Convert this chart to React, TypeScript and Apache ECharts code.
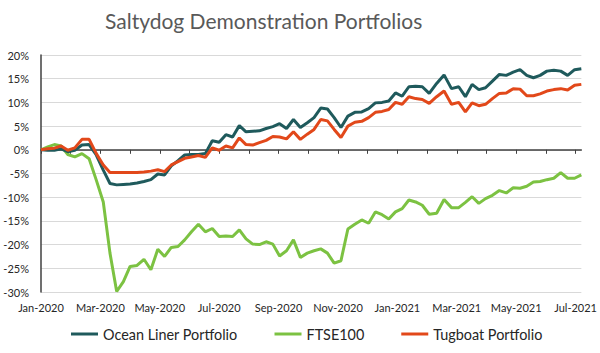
import React, { useEffect, useRef } from "react";
import * as echarts from "echarts";

const START_DATE = "2020-01-01";
const WEEK_COUNT = 80;
const MONTHS = ["Jan", "Feb", "Mar", "Apr", "May", "Jun", "Jul", "Aug", "Sep", "Oct", "Nov", "Dec"];
const Y_TICKS = [-30, -25, -20, -15, -10, -5, 0, 5, 10, 15, 20];
const SERIES_NAMES = ["Ocean Liner Portfolio", "FTSE100", "Tugboat Portfolio"];

const oceanLiner = [
  0.0, -0.1, -0.1, 0.2, -0.4, -0.1, 1.0, 1.1, -1.1, -4.3,
  -7.1, -7.4, -7.3, -7.2, -7.0, -6.7, -6.3, -5.1, -5.3, -3.4,
  -2.3, -1.1, -1.0, -1.0, -0.8, 1.9, 1.6, 3.2, 2.7, 5.1,
  3.8, 3.9, 4.0, 4.5, 4.9, 5.5, 4.5, 6.4, 4.7, 5.7,
  6.8, 8.8, 8.6, 6.8, 4.7, 7.1, 7.9, 8.0, 8.7, 9.9,
  10.0, 10.3, 12.0, 11.3, 13.3, 13.4, 13.3, 11.9, 14.0, 15.8,
  12.9, 13.3, 11.2, 13.8, 12.7, 13.1, 14.5, 15.9, 15.7, 16.4,
  16.9, 15.7, 15.2, 15.7, 16.6, 16.8, 16.6, 15.7, 16.9, 17.1,
];

const ftse100 = [
  0.0, 0.6, 1.1, 0.8, -1.0, -1.5, -0.8, -1.9, -6.4, -11.0,
  -21.8, -29.9, -27.8, -24.6, -24.4, -23.1, -25.3, -21.0, -22.5, -20.6,
  -20.4, -19.0, -17.3, -15.7, -17.3, -16.6, -18.3, -18.2, -18.3, -16.9,
  -18.8, -19.9, -20.0, -19.4, -19.9, -22.4, -21.3, -19.0, -22.7, -21.8,
  -21.3, -20.9, -21.8, -23.9, -23.4, -16.7, -15.7, -14.8, -15.5, -13.1,
  -13.7, -14.6, -13.1, -12.4, -10.6, -11.0, -11.7, -13.6, -13.4, -10.5,
  -12.2, -12.2, -11.1, -9.9, -11.3, -10.3, -9.6, -8.6, -9.1, -8.0,
  -8.1, -7.7, -6.8, -6.7, -6.3, -6.0, -4.8, -6.0, -6.0, -5.3,
];

const tugboat = [
  0.0, 0.2, 0.35, 0.8, -0.1, 0.4, 2.2, 2.2, -0.8, -3.2,
  -4.8, -4.8, -4.8, -4.8, -4.8, -4.7, -4.5, -4.2, -4.6, -3.2,
  -2.5, -1.8, -1.5, -1.2, -1.6, 0.4, -0.1, 0.8, 0.4, 2.5,
  1.1, 1.0, 1.5, 2.0, 2.8, 2.7, 2.3, 3.8, 2.2, 3.3,
  4.3, 6.4, 6.1, 4.3, 2.6, 5.0, 5.8, 6.0, 6.8, 7.9,
  8.1, 8.5, 10.0, 9.6, 11.2, 10.8, 10.6, 9.8, 11.2, 12.4,
  9.6, 10.0, 8.0, 9.9, 9.3, 9.6, 10.8, 11.9, 12.0, 12.9,
  12.8, 11.4, 11.4, 11.8, 12.4, 12.7, 12.9, 12.6, 13.6, 13.8,
];

const COLORS = ["#1f5a5c", "#7cc242", "#e2481a"];
const FONT = "Lato";

// Weekly dates -> fractional month index since Jan 2020
function weekDates(): Date[] {
  const start = new Date(START_DATE + "T00:00:00Z");
  const out: Date[] = [];
  for (let i = 0; i < WEEK_COUNT; i++) {
    out.push(new Date(start.getTime() + i * 7 * 86400000));
  }
  return out;
}
function monthIndex(d: Date): number {
  const y = d.getUTCFullYear();
  const m = d.getUTCMonth();
  const dim = new Date(Date.UTC(y, m + 1, 0)).getUTCDate();
  return (y - 2020) * 12 + m + (d.getUTCDate() - 1) / dim;
}

export default function App() {
  const ref = useRef<HTMLDivElement>(null);
  useEffect(() => {
    if (!ref.current) return;
    const chart = echarts.init(ref.current, undefined, { renderer: "svg" });
    const xs = weekDates().map(monthIndex);
    const values = [oceanLiner, ftse100, tugboat];
    chart.setOption({
      animation: false,
      backgroundColor: "#ffffff",
      title: {
        text: "Saltydog Demonstration Portfolios",
        left: 105,
        top: 10,
        padding: 0,
        textStyle: { fontFamily: FONT, fontSize: 21, fontWeight: "normal", color: "#595959" },
      },
      legend: {
        data: SERIES_NAMES,
        left: 71,
        top: 327,
        padding: 0,
        icon: "rect",
        itemWidth: 27,
        itemHeight: 3,
        itemGap: 37,
        textStyle: { fontFamily: FONT, fontSize: 14.4, color: "#262626" },
      },
      grid: { left: 41, right: 12, top: 55, bottom: 61, containLabel: false },
      xAxis: {
        type: "value",
        min: 0,
        max: xs[xs.length - 1],
        interval: 1,
        axisLine: { show: true, lineStyle: { color: "#404040", width: 1.5 } },
        axisTick: { show: true, length: 4, lineStyle: { color: "#404040" } },
        splitLine: { show: false },
        axisLabel: {
          margin: 10,
          fontFamily: FONT,
          fontSize: 11,
          color: "#262626",
          showMaxLabel: false,
          formatter: (v: number) => {
            const r = Math.round(v);
            if (Math.abs(v - r) > 1e-6 || r % 2 !== 0) return "";
            return MONTHS[r % 12] + "-" + (2020 + Math.floor(r / 12));
          },
        },
      },
      yAxis: {
        type: "value",
        min: Y_TICKS[0],
        max: Y_TICKS[Y_TICKS.length - 1],
        interval: 5,
        axisLine: { show: true, lineStyle: { color: "#404040", width: 1.5 } },
        axisTick: { show: false },
        splitLine: { lineStyle: { color: "#d9d9d9", width: 1.2 } },
        axisLabel: {
          margin: 12,
          fontFamily: FONT,
          fontSize: 11,
          color: "#262626",
          formatter: (v: number) => v + "%",
        },
      },
      series: SERIES_NAMES.map((name, k) => ({
        name,
        type: "line",
        showSymbol: false,
        symbol: "none",
        color: COLORS[k],
        lineStyle: { width: 3, color: COLORS[k] },
        data: values[k].map((v, i) => [xs[i], v]),
        z: k === 1 ? 1 : 2,
      })),
    });
    return () => chart.dispose();
  }, []);
  return <div ref={ref} style={{ width: 600, height: 353, position: "absolute", left: 0, top: 0 }} />;
}
